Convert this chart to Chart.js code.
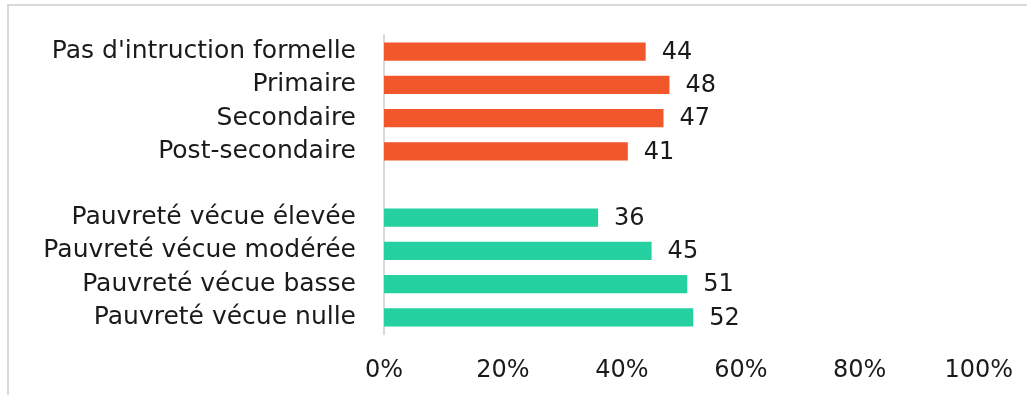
<!DOCTYPE html>
<html>
<head>
<meta charset="utf-8">
<script src="https://cdn.jsdelivr.net/npm/chart.js@4/dist/chart.umd.min.js"></script>
<style>
  html, body { margin: 0; padding: 0; background: #ffffff; }
  #wrap { position: relative; width: 1027px; height: 395px; }
</style>
</head>
<body>
<div id="wrap"><canvas id="chart" width="1027" height="395"></canvas></div>
<script>
// Categories, top to bottom; the empty entry separates the two groups.
const categories = [
  "Pas d'intruction formelle",
  "Primaire",
  "Secondaire",
  "Post-secondaire",
  "",
  "Pauvreté vécue élevée",
  "Pauvreté vécue modérée",
  "Pauvreté vécue basse",
  "Pauvreté vécue nulle"
];
const educationValues = [44, 48, 47, 41];
const povertyValues = [36, 45, 51, 52];
const tickLabels = ["0%", "20%", "40%", "60%", "80%", "100%"];

const ORANGE = "#F2572B";
const GREEN = "#25D1A0";
const FONT = "'DejaVu Sans', sans-serif";
const TEXT = "#1a1a1a";

const values = [...educationValues, null, ...povertyValues];
const colors = [
  ...educationValues.map(() => ORANGE),
  "rgba(0,0,0,0)",
  ...povertyValues.map(() => GREEN)
];

// Light grey frame round the chart
const framePlugin = {
  id: "frame",
  beforeDraw(chart) {
    const ctx = chart.ctx;
    ctx.save();
    ctx.strokeStyle = "#d9d9d9";
    ctx.lineWidth = 2;
    ctx.strokeRect(8, 5, chart.width + 10, chart.height + 10);
    ctx.restore();
  }
};

// Value printed just past the end of each bar
const valueLabelPlugin = {
  id: "valueLabels",
  afterDatasetsDraw(chart) {
    const ctx = chart.ctx;
    const meta = chart.getDatasetMeta(0);
    ctx.save();
    ctx.font = "24px " + FONT;
    ctx.fillStyle = TEXT;
    ctx.textAlign = "left";
    ctx.textBaseline = "middle";
    meta.data.forEach((bar, i) => {
      const v = chart.data.datasets[0].data[i];
      if (v === null || v === undefined) return;
      ctx.fillText(String(v), bar.x + 16, bar.y + 1);
    });
    ctx.restore();
  }
};

new Chart(document.getElementById("chart"), {
  type: "bar",
  data: {
    labels: categories,
    datasets: [{
      data: values,
      backgroundColor: colors,
      borderWidth: 0,
      categoryPercentage: 1,
      barPercentage: 0.55
    }]
  },
  options: {
    indexAxis: "y",
    responsive: false,
    animation: false,
    layout: { padding: { top: 34, right: 45, left: 0, bottom: 0 } },
    plugins: {
      legend: { display: false },
      tooltip: { enabled: false }
    },
    scales: {
      x: {
        min: 0,
        max: 100,
        grid: { display: false },
        border: { display: false },
        ticks: {
          stepSize: 20,
          padding: 14,
          color: TEXT,
          font: { family: FONT, size: 24 },
          maxRotation: 0,
          callback: (v) => tickLabels[Math.round(v / 20)]
        },
        afterFit(scale) { scale.height = 61; }
      },
      y: {
        grid: { display: false },
        border: { display: true, color: "#d9d9d9", width: 2 },
        ticks: {
          padding: 20,
          color: TEXT,
          font: { family: FONT, size: 25 },
          autoSkip: false
        },
        afterFit(scale) { scale.width = 384; }
      }
    }
  },
  plugins: [framePlugin, valueLabelPlugin]
});
</script>
</body>
</html>
